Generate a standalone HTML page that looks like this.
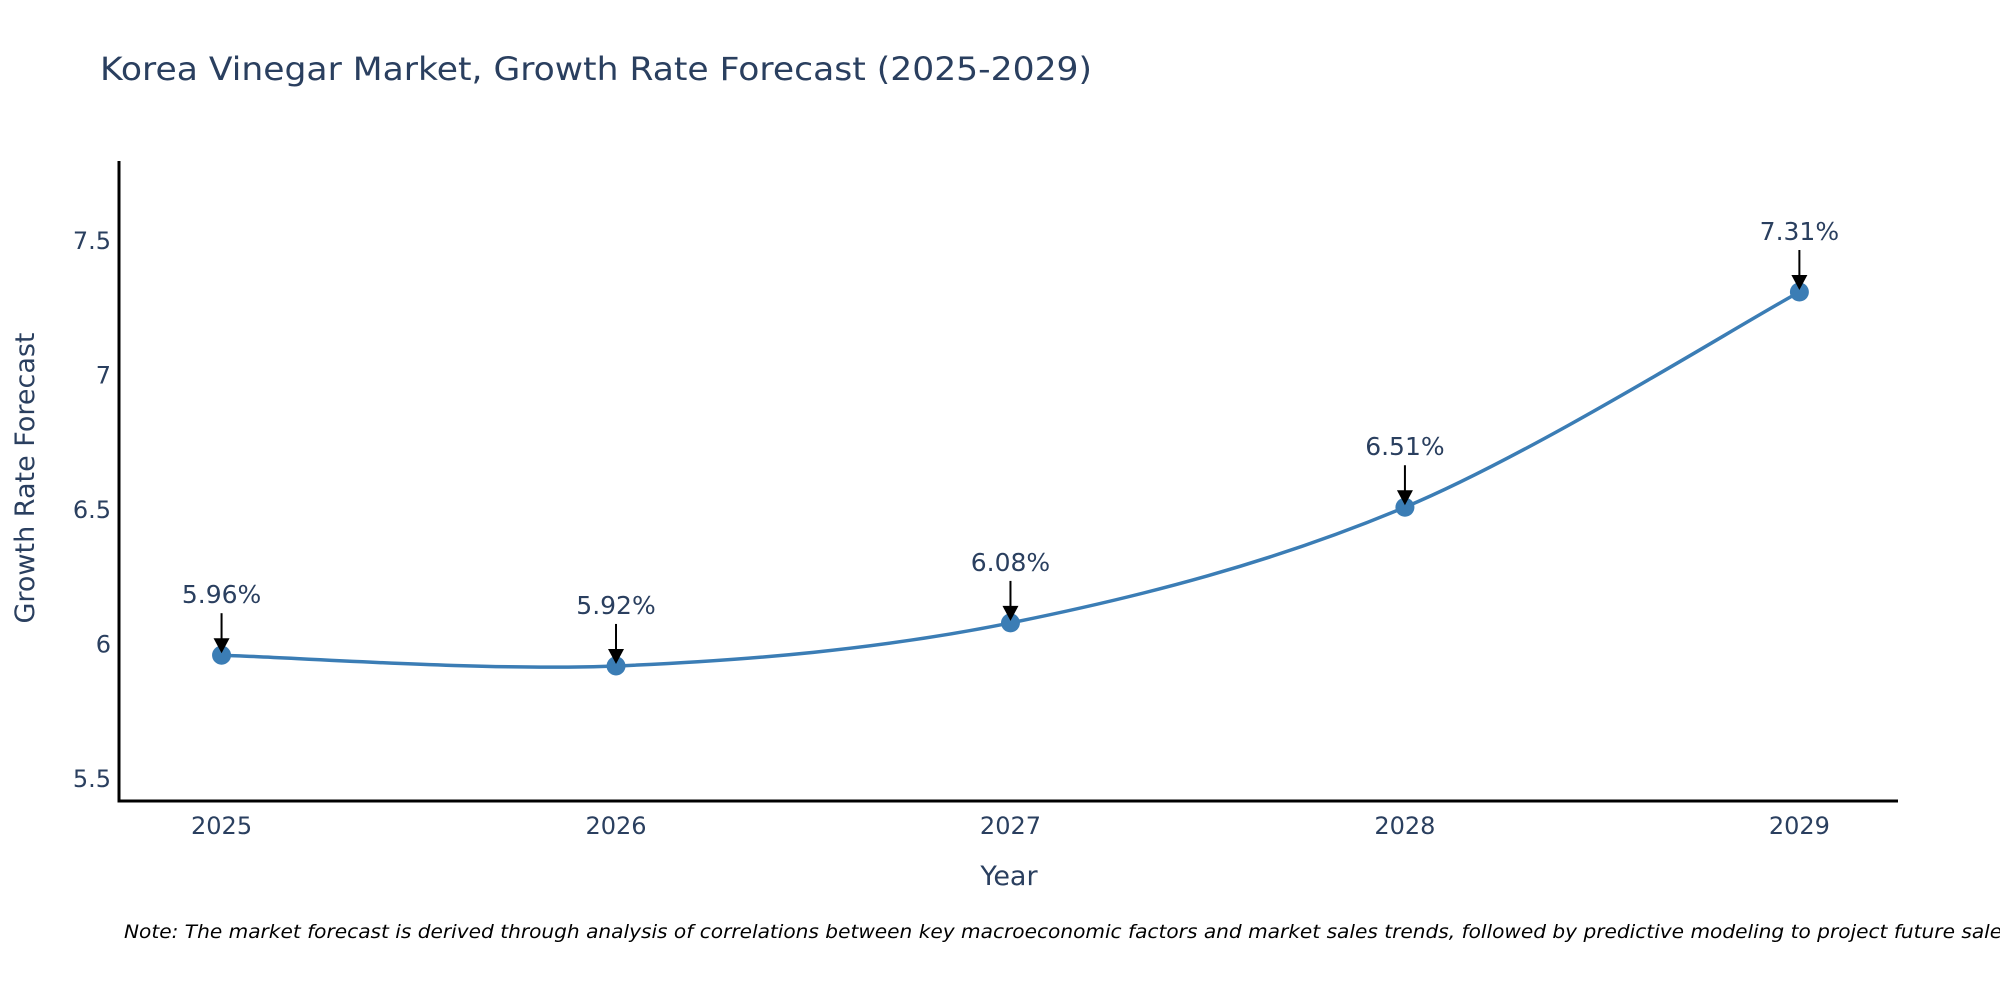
<!DOCTYPE html>
<html><head><meta charset="utf-8"><style>
body{margin:0;background:#fff;}
svg text{font-family:"DejaVu Sans","Liberation Sans",sans-serif;fill:#2a3f5f;}
</style></head><body>
<svg id="chart" width="2000" height="1000" viewBox="0 0 2000 1000" xmlns="http://www.w3.org/2000/svg">
<text x="100" y="80" font-size="32" textLength="992" lengthAdjust="spacingAndGlyphs">Korea Vinegar Market, Growth Rate Forecast (2025-2029)</text>
<g id="plot"></g>
<text x="1009" y="885" font-size="27" text-anchor="middle">Year</text>
<text transform="translate(34,478) rotate(-90)" font-size="27" text-anchor="middle">Growth Rate Forecast</text>
<text x="124" y="938" font-size="19" font-style="italic" style="fill:#000" textLength="1895" lengthAdjust="spacingAndGlyphs">Note: The market forecast is derived through analysis of correlations between key macroeconomic factors and market sales trends, followed by predictive modeling to project future sales.</text>
</svg>
<script>
const years = [2025, 2026, 2027, 2028, 2029];
const growth = [5.96, 5.92, 6.08, 6.51, 7.31];
const yTicks = [5.5, 6, 6.5, 7, 7.5];
const yTickLabels = ["5.5", "6", "6.5", "7", "7.5"];
const pointLabels = ["5.96%", "5.92%", "6.08%", "6.51%", "7.31%"];

const NS = "http://www.w3.org/2000/svg";
const L = 119, R = 1898, T = 161, B = 801;
const xMin = 2024.74, xMax = 2029.25, yMin = 5.418, yMax = 7.797;
const xs = v => L + (v - xMin) / (xMax - xMin) * (R - L);
const ys = v => B - (v - yMin) / (yMax - yMin) * (B - T);
const g = document.getElementById('plot');
function mk(tag, attrs, parent) {
  const e = document.createElementNS(NS, tag);
  for (const k in attrs) e.setAttribute(k, attrs[k]);
  (parent || g).appendChild(e);
  return e;
}
const ax = mk('line', {x1: L, y1: T, x2: L, y2: B + 1.5, stroke: '#000', 'stroke-width': 3});


const bx = mk('line', {x1: L - 1.5, y1: B, x2: R, y2: B, stroke: '#000', 'stroke-width': 3});


yTicks.forEach((v, i) => {
  const t = mk('text', {x: 111, y: ys(v) + 8, 'font-size': 24, 'text-anchor': 'end'});
  t.textContent = yTickLabels[i];
  
  
});
years.forEach(v => {
  const t = mk('text', {x: xs(v), y: 834, 'font-size': 24, 'text-anchor': 'middle'});
  t.textContent = String(v);
  
  
});
const pts = years.map((y, i) => [xs(y), ys(growth[i])]);
let d = `M${pts[0][0]},${pts[0][1]}`;
const s = 1/6;
for (let i = 0; i < pts.length - 1; i++) {
  const p0 = pts[Math.max(0, i - 1)], p1 = pts[i], p2 = pts[i + 1], p3 = pts[Math.min(pts.length - 1, i + 2)];
  const c1 = [p1[0] + (p2[0] - p0[0]) * s, p1[1] + (p2[1] - p0[1]) * s];
  const c2 = [p2[0] - (p3[0] - p1[0]) * s, p2[1] - (p3[1] - p1[1]) * s];
  d += ` C${c1[0]},${c1[1]} ${c2[0]},${c2[1]} ${p2[0]},${p2[1]}`;
}
const line = mk('path', {d: d, fill: 'none', stroke: '#3b7db5', 'stroke-width': 3.5});


pts.forEach((p, i) => {
  const c = mk('circle', {cx: p[0], cy: p[1], r: 9.5, fill: '#3b7db5'});
  
  
  const a = mk('line', {x1: p[0], y1: p[1] - 42, x2: p[0], y2: p[1] - 14, stroke: '#000', 'stroke-width': 2});
  
  
  const h = mk('path', {d: `M${p[0]-8},${p[1]-17} L${p[0]+8},${p[1]-17} L${p[0]},${p[1]-2} Z`, fill: '#000'});
  
  
  const t = mk('text', {x: p[0], y: p[1] - 52, 'font-size': 25, 'text-anchor': 'middle'});
  t.textContent = pointLabels[i];
  
  
});
</script>
</body></html>
